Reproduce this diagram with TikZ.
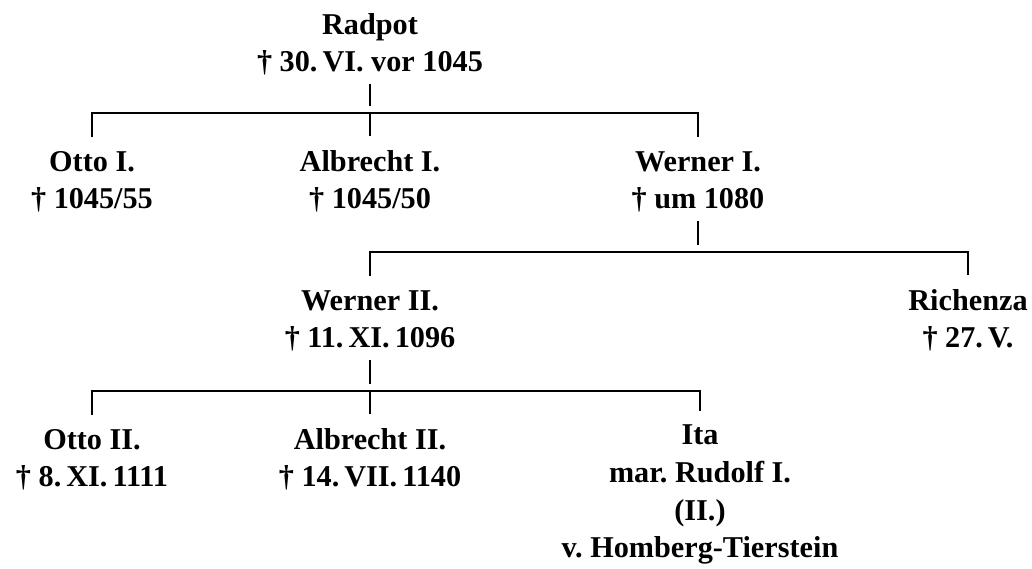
\documentclass[tikz,border=0pt]{standalone}
\usepackage{fontspec}
\setmainfont{Liberation Serif}
\usetikzlibrary{calc}

\tikzset{
  person/.style={
    font=\fontsize{21.5}{26.8}\selectfont\bfseries\frenchspacing,
    align=center,
    inner sep=0pt,
    anchor=base,
  },
}

\begin{document}
\begin{tikzpicture}[x=0.025cm,y=-0.025cm]
  \useasboundingbox (0,0) rectangle (1032,569);
  % base = baseline of the last line
  \begin{scope}[every node/.style={person}]
    \node(radpot)    at (370,72)  {Radpot\\† 30.\,VI. vor 1045};
    \node(otto1)     at (92,209)  {Otto I.\\† 1045/55};
    \node(albrecht1) at (370,209) {Albrecht I.\\† 1045/50};
    \node(werner1)   at (698,209) {Werner I.\\† um 1080};
    \node(werner2)   at (370,348) {Werner II.\\† 11.\,XI.\,1096};
    \node(richenza)  at (968,348) {Richenza\\† 27.\,V.};
    \node(otto2)     at (92,487)  {Otto II.\\† 8.\,XI.\,1111};
    \node(albrecht2) at (370,487) {Albrecht II.\\† 14.\,VII.\,1140};
    \node(ita)       at (700,558) {Ita\\mar. Rudolf I.\\(II.)\\v. Homberg-Tierstein};
  \end{scope}
  \begin{scope}[every path/.style={draw,line width=1.2pt}]
    \foreach \p/\y/\a/\b in {radpot/113/otto1/werner1,
                             werner1/252/werner2/richenza,
                             werner2/391/otto2/ita}{
      \coordinate(\p-bar) at (0,\y);
      \path ($(\p.south)+(0,8)$) -- ($(\p.south |- \p-bar)+(0,-7)$);
      \path ($(\a.north)+(0,-14)$) |- (\b.north |- \p-bar)
        -- ($(\b.north)+(0,-14)$);
    }
    \foreach \k/\p in {albrecht1/radpot,albrecht2/werner2}{
      \path (\k.north |- \p-bar) -- ($(\k.north)+(0,-14)$);
    }
  \end{scope}
\end{tikzpicture}
\end{document}
